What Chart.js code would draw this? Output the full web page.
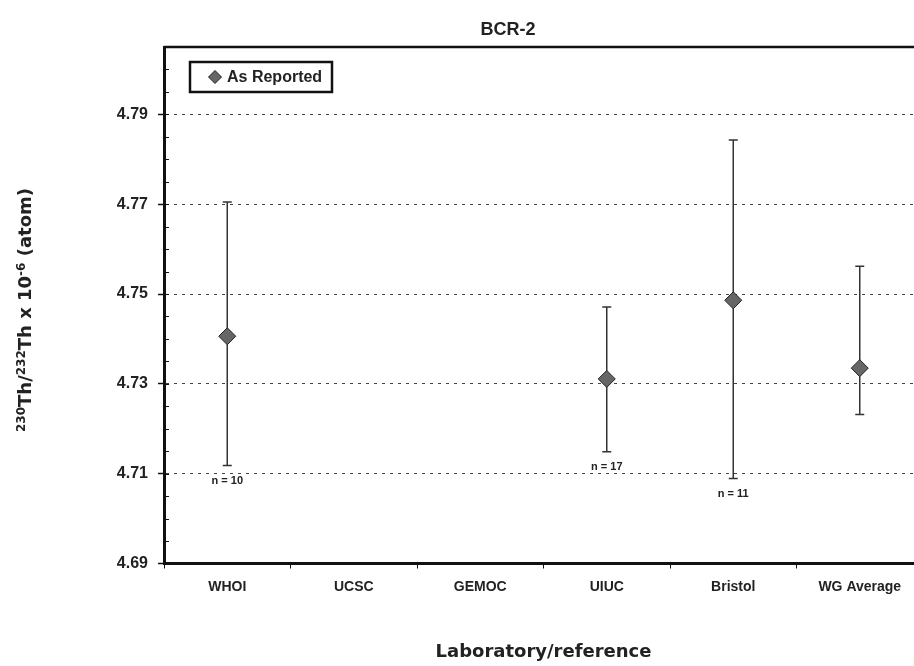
<!DOCTYPE html>
<html><head><meta charset="utf-8">
<script src="https://cdn.jsdelivr.net/npm/chart.js@4"></script>
<style>html,body{margin:0;padding:0;background:#fff;overflow:hidden;width:914px;height:666px}
#wrap{position:relative;width:960px;height:666px}</style></head>
<body><div id="wrap"><canvas id="c"></canvas></div>
<script>
const categories = ['WHOI', 'UCSC', 'GEMOC', 'UIUC', 'Bristol', 'WG Average'];
const asReported = [4.7406, null, null, 4.7311, 4.7486, 4.7335];
const errLower = [4.7118, null, null, 4.7149, 4.7089, 4.7232];
const errUpper = [4.7705, null, null, 4.7471, 4.7843, 4.7562];
const nLabels = ['n = 10', '', '', 'n = 17', 'n = 11', ''];
const yTicks = [4.69, 4.71, 4.73, 4.75, 4.77, 4.79];
const yMin = 4.69, yMax = 4.805, yMinorStep = 0.005;
const chartTitle = 'BCR-2';
const xTitle = 'Laboratory/reference';
const legendLabel = 'As Reported';
const yTitleParts = [['230', true], ['Th/', false], ['232', true], ['Th x 10', false], ['-6', true], [' (atom)', false]];

const tickFont = {family: 'Liberation Sans', weight: 'bold'};

const errorBars = {
  id: 'errorBars',
  beforeDatasetsDraw(chart) {
    const {ctx, scales: {x, y}} = chart;
    ctx.save();
    ctx.strokeStyle = '#333';
    ctx.lineWidth = 1.5;
    categories.forEach((c, i) => {
      if (asReported[i] == null) return;
      const px = x.getPixelForValue(i);
      const lo = y.getPixelForValue(errLower[i]);
      const hi = y.getPixelForValue(errUpper[i]);
      ctx.beginPath();
      ctx.moveTo(px, lo); ctx.lineTo(px, hi);
      ctx.moveTo(px - 4.5, lo); ctx.lineTo(px + 4.5, lo);
      ctx.moveTo(px - 4.5, hi); ctx.lineTo(px + 4.5, hi);
      ctx.stroke();
    });
    ctx.restore();
  }
};

const decorations = {
  id: 'decorations',
  afterDraw(chart) {
    const {ctx, chartArea: a, scales: {x, y}} = chart;
    ctx.save();
    // frame top & right
    ctx.strokeStyle = '#111';
    ctx.lineWidth = 2.5;
    ctx.beginPath();
    ctx.moveTo(a.left, a.top); ctx.lineTo(a.right, a.top); ctx.lineTo(a.right, a.bottom);
    ctx.stroke();
    // minor ticks inside on y axis
    ctx.lineWidth = 1;
    ctx.strokeStyle = '#111';
    ctx.beginPath();
    for (let v = yMin + yMinorStep; v < yMax - 1e-9; v += yMinorStep) {
      const py = Math.round(y.getPixelForValue(v)) + 0.5;
      ctx.moveTo(a.left, py); ctx.lineTo(a.left + 5, py);
    }
    ctx.stroke();
    // n labels
    ctx.fillStyle = '#222';
    ctx.font = 'bold 11px "Liberation Sans"';
    ctx.textAlign = 'center';
    ctx.textBaseline = 'middle';
    nLabels.forEach((t, i) => {
      if (!t) return;
      ctx.fillText(t, x.getPixelForValue(i), y.getPixelForValue(errLower[i]) + 15);
    });
    // title
    ctx.font = 'bold 18px "Liberation Sans"';
    ctx.fillStyle = '#222';
    ctx.fillText(chartTitle, 508, 30);
    // legend
    const ds = chart.data.datasets[0];
    const lx = a.left + 26, ly = a.top + 15, lw = 142, lh = 30;
    ctx.fillStyle = '#fff';
    ctx.fillRect(lx, ly, lw, lh);
    ctx.strokeStyle = '#111';
    ctx.lineWidth = 2.5;
    ctx.strokeRect(lx, ly, lw, lh);
    const dx = lx + 25, dy = ly + lh / 2, r = 6.5;
    ctx.beginPath();
    ctx.moveTo(dx, dy - r); ctx.lineTo(dx + r, dy); ctx.lineTo(dx, dy + r); ctx.lineTo(dx - r, dy); ctx.closePath();
    ctx.fillStyle = ds.pointBackgroundColor; ctx.fill();
    ctx.lineWidth = 1; ctx.strokeStyle = ds.pointBorderColor; ctx.stroke();
    ctx.fillStyle = '#222';
    ctx.font = 'bold 16px "Liberation Sans"';
    ctx.textAlign = 'left';
    ctx.fillText(legendLabel, dx + 12, dy + 1);
    // y title with superscripts
    const big = 'bold 18px "DejaVu Sans"', small = 'bold 12px "DejaVu Sans"';
    let total = 0;
    yTitleParts.forEach(([t, sup]) => { ctx.font = sup ? small : big; total += ctx.measureText(t).width; });
    ctx.translate(31, 310);
    ctx.rotate(-Math.PI / 2);
    ctx.textAlign = 'left';
    ctx.textBaseline = 'alphabetic';
    let cx = -total / 2;
    yTitleParts.forEach(([t, sup]) => {
      ctx.font = sup ? small : big;
      ctx.fillText(t, cx, sup ? -6 : 0);
      cx += ctx.measureText(t).width;
    });
    ctx.restore();
  }
};

new Chart(document.getElementById('c'), {
  type: 'line',
  data: {
    labels: categories,
    datasets: [{
      label: legendLabel,
      data: asReported,
      showLine: false,
      pointStyle: 'rectRot',
      pointRadius: 8.5,
      pointHoverRadius: 8.5,
      pointBackgroundColor: '#666666',
      pointBorderColor: '#222222',
      pointBorderWidth: 1
    }]
  },
  options: {
    responsive: true,
    maintainAspectRatio: false,
    animation: false,
    events: [],
    layout: {padding: {top: 47, right: 37, left: 0, bottom: 0}},
    plugins: {legend: {display: false}, title: {display: false}, tooltip: {enabled: false}},
    scales: {
      x: {
        type: 'category',
        offset: true,
        grid: {offset: true, drawOnChartArea: false, drawTicks: true, tickLength: 5, tickColor: '#111', tickWidth: 1},
        border: {color: '#111', width: 3},
        ticks: {font: {...tickFont, size: 14}, color: '#222', padding: 10, maxRotation: 0, autoSkip: false},
        title: {display: true, text: xTitle, font: {family: 'DejaVu Sans', weight: 'bold', size: 18}, color: '#222', padding: {top: 0, bottom: 3}},
        afterFit: s => { s.height = 102.5; }
      },
      y: {
        type: 'linear',
        min: yMin,
        max: yMax,
        afterBuildTicks: s => { s.ticks = yTicks.map(v => ({value: v})); },
        ticks: {font: {...tickFont, size: 16}, color: '#222', padding: 10, callback: v => v.toFixed(2)},
        grid: {color: '#444', lineWidth: 1, tickLength: 6, tickColor: '#111', tickWidth: 1.5, tickBorderDash: []},
        border: {color: '#111', width: 3, dash: [3, 5]},
        afterFit: s => { s.width = 164; }
      }
    }
  },
  plugins: [errorBars, decorations]
});
</script>
</body></html>
